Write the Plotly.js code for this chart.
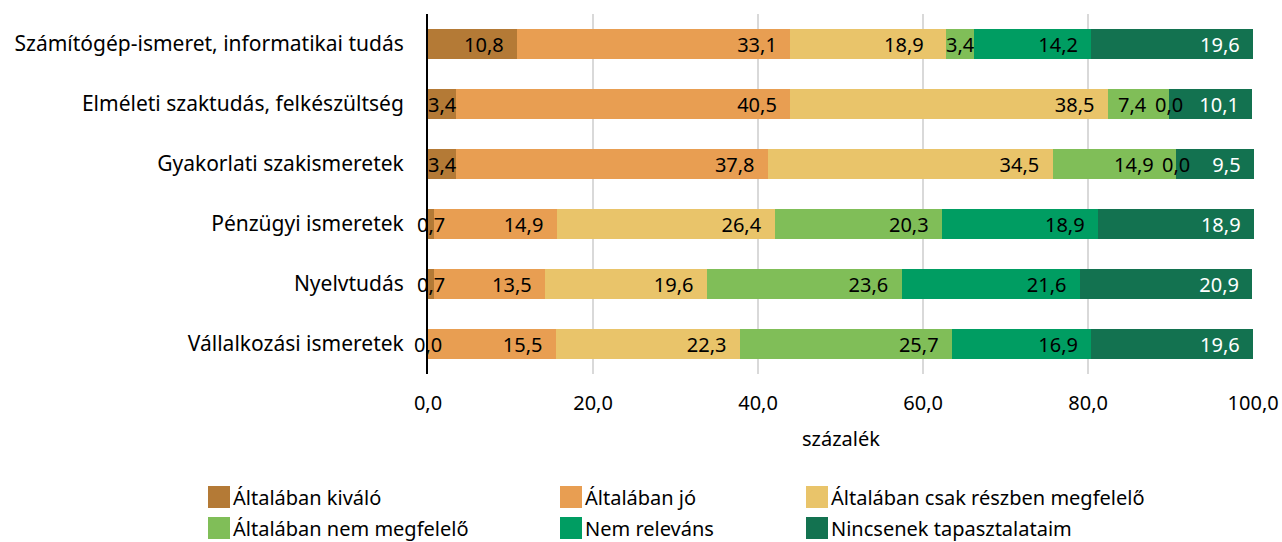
<!DOCTYPE html>
<html><head><meta charset="utf-8">
<script src="https://cdn.plot.ly/plotly-3.0.1.min.js"></script>
<style>html,body{margin:0;padding:0;background:#fff}#chart{width:1282px;height:542px}</style>
</head><body><div id="chart"></div>
<script>
var categories = ["Számítógép-ismeret, informatikai tudás","Elméleti szaktudás, felkészültség","Gyakorlati szakismeretek","Pénzügyi ismeretek","Nyelvtudás","Vállalkozási ismeretek"];
var seriesNames = ["Általában kiváló","Általában jó","Általában csak részben megfelelő","Általában nem megfelelő","Nem releváns","Nincsenek tapasztalataim"];
var kivalo   = [10.8, 3.4, 3.4, 0.7, 0.7, 0.0];
var jo       = [33.1, 40.5, 37.8, 14.9, 13.5, 15.5];
var reszben  = [18.9, 38.5, 34.5, 26.4, 19.6, 22.3];
var nemMegf  = [3.4, 7.4, 14.9, 20.3, 23.6, 25.7];
var nemRelev = [14.2, 0.0, 0.0, 18.9, 21.6, 16.9];
var nincs    = [19.6, 10.1, 9.5, 18.9, 20.9, 19.6];
var xTicks = [0, 20, 40, 60, 80, 100];

var series = [kivalo, jo, reszben, nemMegf, nemRelev, nincs];
var colors = ["#B47A36","#E89E52","#E9C46A","#80BE58","#009D62","#137250"];
var textColors = ["#000","#000","#000","#000","#000","#fff"];
var FONT = "Noto Sans, sans-serif";
var LABEL_SIZE = 20;
var SMALL = 4; // segments narrower than this get a centred label
function fmt(v){ return v.toFixed(1).replace(".", ","); }
var NB = "\u00A0";
function nextIsSmall(i, r){ var n = series[i + 1]; return !!(n && n[r] < SMALL); }

var traces = series.map(function(vals, i){
  return {
    type: "bar", orientation: "h", name: seriesNames[i],
    y: categories, x: vals,
    marker: {color: colors[i], line: {width: 0}},
    text: vals.map(function(v, r){
      if (v < SMALL || nextIsSmall(i, r)) return "";
      return fmt(v) + NB + NB;
    }),
    textposition: "inside", insidetextanchor: "end", textangle: 0,
    textfont: {family: FONT, size: LABEL_SIZE, color: textColors[i]},
    constraintext: "none",
    cliponaxis: false,
    hoverinfo: "skip", showlegend: false
  };
});

var shapes = [], annotations = [];
// labels for narrow segments (centred) and for segments followed by a narrow one
categories.forEach(function(cat, r){
  var cum = 0;
  series.forEach(function(vals, i){
    var v = vals[r];
    if (v < SMALL) {
      annotations.push({xref:"x", yref:"y", x: cum + v / 2, y: cat, text: fmt(v),
        showarrow:false, xanchor:"center", yanchor:"middle",
        font:{family:FONT, size:LABEL_SIZE, color:textColors[i]}});
    } else if (nextIsSmall(i, r)) {
      annotations.push({xref:"x", yref:"y", x: cum + v, y: cat, text: fmt(v),
        showarrow:false, xanchor:"right", yanchor:"middle", xshift:-20,
        font:{family:FONT, size:LABEL_SIZE, color:textColors[i]}});
    }
    cum += v;
  });
});

// custom legend (layout shapes/annotations built from series names & colors)
var legCols = [208, 560, 806], legRows = [497, 528];
seriesNames.forEach(function(n, i){
  var cx = legCols[i % 3], cy = legRows[Math.floor(i / 3)];
  shapes.push({type:"rect", xref:"paper", yref:"paper",
    x0:(cx-428)/826, x1:(cx+22-428)/826,
    y0:(374-(cy-11))/360, y1:(374-(cy+11))/360,
    fillcolor: colors[i], line:{width:0}});
  annotations.push({xref:"paper", yref:"paper", x:(cx+23-428)/826, y:(374-cy)/360,
    xanchor:"left", yanchor:"middle", showarrow:false, text:n,
    font:{family:FONT, size:20, color:"#000"}});
});

var layout = {
  width: 1282, height: 542,
  margin: {l: 428, r: 28, t: 14, b: 168},
  paper_bgcolor: "#fff", plot_bgcolor: "#fff",
  barmode: "stack", bargap: 0.5,
  separators: ", ",
  uniformtext: {mode: "show", minsize: LABEL_SIZE},
  font: {family: FONT, size: 20, color: "#000"},
  xaxis: {range: [0, 100.1], tickvals: xTicks, ticktext: xTicks.map(fmt),
    showgrid: true, gridcolor: "#d9d9d9", gridwidth: 2, zeroline: false,
    showline: false, ticks: "", ticklabelstandoff: 15,
    tickfont: {family: FONT, size: 20, color: "#000"},
    title: {text: "százalék", font: {family: FONT, size: 20, color: "#000"}, standoff: 16}},
  yaxis: {autorange: "reversed", showline: true, linecolor: "#000", linewidth: 2,
    showgrid: false, ticks: "", ticklabelstandoff: 18,
    tickfont: {family: FONT, size: 21, color: "#000"}},
  shapes: shapes, annotations: annotations
};

Plotly.newPlot("chart", traces, layout, {staticPlot: true, displayModeBar: false});
</script></body></html>
